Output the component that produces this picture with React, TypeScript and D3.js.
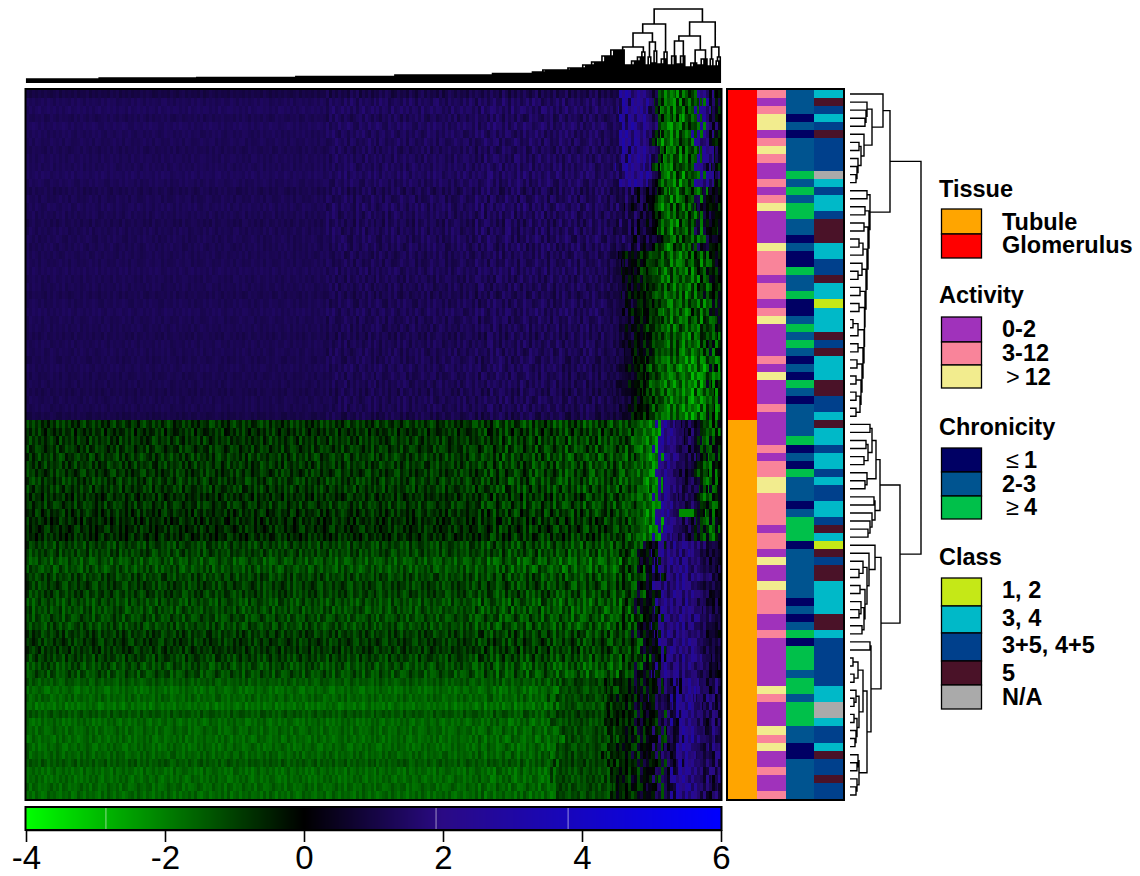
import React, { useRef, useEffect } from "react";
import * as d3 from "d3";

type Merge = 0 | [number, Merge, Merge];
type Run = [number, number];

// ---- colour key ----
const keyTicks = [-4, -2, 0, 2, 4, 6];
const keyDomain = [-4, 0, 2, 6];
const keyColors = ["#00ff00", "#000000", "#2a0a85", "#0000ff"];
const keySeams = [-2.85, 1.9, 3.8];

// ---- sample annotations, one letter per row ----
const tissueRows = "g".repeat(41) + "t".repeat(47);
const activityRows = [
  "babccabcbaababc", "aaaac", "bbb", "a", "bb", "a", "b", "c", "aaaa", "b", "a", "c", "aaa", "b", "a",
  "aaa", "b", "a", "bb", "cc", "bbbb", "a", "bb", "a", "c", "aa", "c", "bbb", "aa", "b",
  "aaaaaa", "c", "b", "aaa", "c", "b", "c", "aa", "b", "aa", "b",
].join("");
const chronicityRows = [
  "mmm", "n", "m", "n", "mmmm", "g", "m", "g", "m", "gg", "mm", "n", "m", "nn", "g", "mm", "g", "nn", "m", "g", "m", "g", "m",
  "n", "m", "n", "g", "m", "n", "mmmm", "g", "n", "m", "n", "g", "mmm", "n", "m", "ggg", "n", "mmmmmm", "n", "m", "n", "m", "g",
  "n", "ggg", "m", "gg", "m", "ggg", "mm", "nn", "mmmmm",
].join("");
const classRows = [
  "c", "d", "b", "c", "b", "d", "bbbb", "a", "c", "b", "cc", "b", "ddd", "cc", "bb", "d", "cc", "y", "ccc", "d", "b", "d", "ccc",
  "dd", "bb", "c", "d", "cc", "b", "cc", "b", "c", "bb", "cc", "b", "d", "c", "y", "d", "b", "dd", "cccc", "dd", "c",
  "bbbbbb", "cc", "aa", "c", "bb", "c", "d", "bb", "d", "bb",
].join("");

const tissueColors: Record<string, string> = { t: "#ffa500", g: "#ff0000" };
const activityColors: Record<string, string> = { a: "#a032bb", b: "#f9849a", c: "#f2ec8e" };
const chronicityColors: Record<string, string> = { n: "#000064", m: "#005490", g: "#00c04a" };
const classColors: Record<string, string> = { y: "#c5e817", c: "#00b9c8", b: "#00408c", d: "#4a1228", a: "#aaaaaa" };

// ---- heatmap: values read per column band for each horizontal block of rows ----
const columnCount = 464;
const bandEdges = [0, 100, 200, 300, 353, 389, 398, 409, 418, 422, 434, 449, 459, 464];
const blockRowCounts = [12, 8, 13, 8, 15, 17, 15];
const blockBands = [
  [1.3, 1.3, 1.35, 1.4, 1.4, 1.3, 2.3, 2.2, 0.6, -1.8, -1.2, 2.1, -0.5],
  [1.25, 1.25, 1.3, 1.35, 1.35, 1.2, 0.9, 0.8, 0.1, -1.6, -1.2, 0.5, -0.3],
  [1.25, 1.25, 1.25, 1.3, 1.3, 1.1, 0.2, -0.4, -0.7, -1.4, -1.5, -1.1, -0.3],
  [1.2, 1.2, 1.25, 1.3, 1.2, 0.9, 0.1, -0.9, -1.0, -1.7, -1.9, -1.6, -0.4],
  [-0.8, -0.8, -0.85, -0.95, -1.05, -1.1, -1.1, -1.8, -1.8, 2.1, 1.0, -1.3, -0.3],
  [-1.05, -1.05, -1.1, -1.15, -1.25, -1.25, -1.0, 0.1, 0.1, 1.9, 1.9, 1.0, 0.5],
  [-1.6, -1.6, -1.6, -1.6, -1.15, -0.6, -0.45, 0.2, -0.5, 1.0, 2.2, 1.0, 1.5],
];
const rowLevels = [
  0.8, 1, 1.05, 0.95, 1.05, 1, 1, 0.95, 1, 1, 1.05, 1,
  0.95, 1, 1.05, 1, 0.95, 1, 1, 1,
  1, 1, 1.05, 1, 1, 0.95, 1, 1.05, 1, 1, 0.95, 1, 1,
  1, 1.05, 1, 1, 0.95, 1, 1, 0.9,
  1, 0.85, 1, 1, 1.1, 1.05, 1, 1.1, 1.05, 0.85, 1.05, 0.85, 0.75, 0.8, 0.75,
  0.95, 0.95, 1.2, 1.15, 0.95, 0.9, 0.9, 1.1, 1.1, 1.05, 1.05, 0.85, 0.8, 0.78, 0.92, 1.1, 1.1,
  0.85, 1.02, 0.95, 1.08, 0.82, 1, 0.97, 1, 1, 0.95, 0.84, 1, 1, 0.97, 1,
];
// how far each row's band edges lie from the block's, in columns
const rowEdgeShift = [
  1, -1, 2, 0, -2, 1, 3, -1, 0, 2, -2, 1,
  -2, 1, 3, -1, 0, 2, -3, 1,
  4, 2, 5, 3, 1, 4, 0, 2, -1, 1, -2, 0, -1,
  -2, 0, -3, 1, -1, -4, -2, 0,
  1, -1, 0, 2, -2, 1, 3, 0, -1, 2, -2, 1, 0, -1, 2,
  -1, 2, 0, 1, -3, 2, -1, 3, 0, -2, 1, 2, -1, 0, -3, 1, 2,
  0, -2, 3, 1, -1, 2, 0, -3, 1, 2, -2, 0, 3, -1, 1,
];
const leftGrainByBlock = [0.3, 0.35, 0.3, 0.3, 0.6, 0.55, 0.32];
const rightGrainByBlock = [0.9, 1.0, 1.0, 1.0, 0.85, 0.85, 0.85];
const grainStrings = [
  "52738461950627384159073628154906273518490627153849602735184069273518049627351847",
  "4618295073618402957316480295174630829517403682951740638295071648392057146382905716483",
  "7305182649370516284937051628493075162849307516824930571628403957162849357016284930571628",
  "2950736148295703614829057361482950736418295073641829570364182950736418925073641829507361482",
  "6142953708614295370861249537086142593708614259370861429537086124953780612495378061249",
  "8371605924837160592483716059248371650924837165092483761509248376150924873615092487361509",
  "3596170428359617042835961074283596107428395610742839561704283956170428395617048239561",
];
const rowGrain = "0351624150362410536214053162405316240513625041362504136250413625041360524163052416305241";
const rowPhase = "3816052947261839504718263905147268391052847361920584716293058471629305847162930584716293";
// one patch that stands out from its block: row, first column, last column, value
const heatPatches: [number, number, number, number][] = [[52, 436, 445, -2.2]];

// ---- column dendrogram: runs of [leaves, merge height] ----
const topChainRuns: Run[] = [
  [50, 4], [66, 5], [67, 5.5], [67, 6.5], [66, 8], [27, 9.5], [7, 11], [17, 13],
  [10, 15], [6, 18], [7, 21], [6, 27], [8, 33],
];
const clumpA: Run[] = [[5, 18], [4, 22], [3, 26], [1, 31]];
const clumpB: Run[] = [[2, 18], [1, 26]];
const clumpC: Run[] = [[2, 20], [1, 32]];
const clumpD: Run[] = [[3, 19], [2, 24], [1, 31]];
const clumpE: Run[] = [[3, 18], [2, 27]];
const clumpF: Run[] = [[3, 19], [2, 27]];
const clumpG: Run[] = [[4, 16], [3, 20]];
const clumpH: Run[] = [[3, 18], [3, 24]];
const clumpI: Run[] = [[2, 17], [1, 24]];
const clumpJ: Run[] = [[2, 17], [1, 22], [1, 26]];

function chain(runs: Run[]): Merge {
  let node: Merge = 0;
  runs.forEach(([n, h]) => {
    for (let i = 0; i < n; i++) node = [h, node, 0];
  });
  return node;
}

const topTree: Merge = [74,
  [59,
    [50, [36, chain(topChainRuns), chain(clumpA)], [41, chain(clumpB), chain(clumpC)]],
    chain(clumpD)],
  [61,
    [47, [42, chain(clumpE), chain(clumpF)], [33, chain(clumpG), chain(clumpH)]],
    [36, chain(clumpI), chain(clumpJ)]],
];

// ---- row dendrogram, merge heights ----
const glomTop: Merge = [33, 0,
  [22,
    [17, 0, [16, 0, [15, 0, 0]]],
    [14, 0, [11, [9, 0, 0], [8, 0, [7, 0, [6, 0, 0]]]]]]];
const glomBottom: Merge = [20, [17, 0, 0],
  [19, [15, 0, 0],
    [18, [14, 0, 0],
      [17, [13, [9, 0, 0], 0],
        [16, [12, 0, [8, 0, 0]],
          [15, [10, 0, 0],
            [14.5, [9, 0, 0],
              [14, [8, [3, 0, 0], 0],
                [13, [8, 0, 0],
                  [12, [7, 0, 0],
                    [11, [6, 0, 0],
                      [10, [6, 0, 0], [6, 0, 0]]]]]]]]]]]]];
const tubuleTop: Merge = [30,
  [26, [22, [20, 0, 0], [18, [16, 0, 0], [14, 0, 0]]], [17, 0, [15, 0, 0]]],
  [25, [24, 0, 0], [22, 0, [20, 0, [18, 0, 0]]]]];
const tubuleMiddle: Merge = [25, 0,
  [19, 0,
    [17, [13, 0, [9, 0, 0]], [15, [10, 0, 0], [14, [11, 0, [9, 0, 0]], [12, 0, 0]]]]]];
const tubuleBottom: Merge = [21, [20, 0, 0],
  [17,
    [13, [8, [3, 0, 0], [4, 0, 0]], [9, [6, 0, [4, 0, 0]], [7, [4, 0, 0], [6, 0, [5, 0, 0]]]]],
    [9, [8, 0, [7, 0, 0]], [7, 0, [6, 0, 0]]]]];
const rowTree: Merge = [71, [40, glomTop, glomBottom], [50, tubuleTop, [31, tubuleMiddle, tubuleBottom]]];

// ---- legends ----
const legends = [
  { title: "Tissue", titleY: 197, items: [
    { label: "Tubule", color: "#ffa500", y0: 209, y1: 234, base: 230 },
    { label: "Glomerulus", color: "#ff0000", y0: 234, y1: 258, base: 253 },
  ] },
  { title: "Activity", titleY: 303, items: [
    { label: "0-2", color: "#a032bb", y0: 317, y1: 342, base: 337 },
    { label: "3-12", color: "#f9849a", y0: 342, y1: 365, base: 361 },
    { sym: ">", label: "12", color: "#f2ec8e", y0: 365, y1: 388, base: 385 },
  ] },
  { title: "Chronicity", titleY: 435, items: [
    { sym: "≤", label: "1", color: "#000064", y0: 448, y1: 472, base: 468 },
    { label: "2-3", color: "#005490", y0: 472, y1: 496, base: 492 },
    { sym: "≥", label: "4", color: "#00c04a", y0: 496, y1: 519, base: 515 },
  ] },
  { title: "Class", titleY: 565, items: [
    { label: "1, 2", color: "#c5e817", y0: 578, y1: 606, base: 598 },
    { label: "3, 4", color: "#00b9c8", y0: 606, y1: 633, base: 626 },
    { label: "3+5, 4+5", color: "#00408c", y0: 633, y1: 661, base: 653 },
    { label: "5", color: "#4a1228", y0: 661, y1: 685, base: 681 },
    { label: "N/A", color: "#aaaaaa", y0: 685, y1: 709, base: 705 },
  ] },
];

const FONT = "'Liberation Sans', Arial, sans-serif";

function toNode(m: Merge): any {
  return m === 0 ? { h: 0 } : { h: m[0], children: [toNode(m[1]), toNode(m[2])] };
}

function layoutTree(m: Merge, span: number) {
  const root = d3.hierarchy(toNode(m));
  d3.cluster().size([span, 1]).separation(() => 1)(root as any);
  return root as any;
}

export default function App() {
  const svgRef = useRef<SVGSVGElement>(null);

  useEffect(() => {
    const svg = d3.select(svgRef.current);
    svg.selectAll("*").remove();

    const heatX0 = 26, heatX1 = 721, rowsY0 = 90, rowsY1 = 799;
    const color = d3.scaleLinear<string>().domain(keyDomain).range(keyColors).clamp(true);
    const rowIdx = d3.range(activityRows.length);
    const colIdx = d3.range(columnCount);
    const x = d3.scaleBand<number>().domain(colIdx).range([heatX0, heatX1]);
    const y = d3.scaleBand<number>().domain(rowIdx).range([rowsY0, rowsY1]);

    // which block each row falls in
    const rowBlock: number[] = [];
    blockRowCounts.forEach((n, b) => { for (let i = 0; i < n; i++) rowBlock.push(b); });
    const bandOf = d3.scaleThreshold<number, number>().domain(bandEdges.slice(1, -1)).range(d3.range(bandEdges.length - 1));

    const cellValue = (r: number, c: number) => {
      const patch = heatPatches.find(p => p[0] === r && c >= p[1] && c <= p[2]);
      if (patch) return patch[3];
      const b = rowBlock[r];
      const g = grainStrings[+rowGrain[r]];
      // grain runs about two columns wide, as in the picture
      const digit = +g[((c >> 1) + +rowPhase[r] * 3) % g.length];
      const soft = c >= 300 ? (digit - 4.5) * 0.9 + rowEdgeShift[r] : 0;
      const pos = c + soft;
      const left = pos < 398;
      const base = blockBands[b][bandOf(pos)] * (left ? rowLevels[r] : 1);
      const amp = left ? leftGrainByBlock[b] * (c < 200 && b < 4 ? 0.45 : c < 300 ? 1 : 1.35) : rightGrainByBlock[b];
      return base + ((digit - 4.5) / 4.5) * amp;
    };

    const heat = svg.append("g").attr("shape-rendering", "crispEdges");
    rowIdx.forEach(r => {
      heat.append("g")
        .selectAll("rect")
        .data(colIdx)
        .join("rect")
        .attr("x", c => x(c)!)
        .attr("y", y(r)!)
        .attr("width", x.bandwidth() + 0.5)
        .attr("height", y.bandwidth() + 0.5)
        .attr("fill", c => color(cellValue(r, c)));
    });
    svg.append("rect")
      .attr("x", heatX0 - 0.5).attr("y", 89).attr("width", heatX1 - heatX0 + 1).attr("height", 711)
      .attr("fill", "none").attr("stroke", "#000").attr("stroke-width", 2);

    // annotation columns
    const annotations = [
      { rows: tissueRows, colors: tissueColors },
      { rows: activityRows, colors: activityColors },
      { rows: chronicityRows, colors: chronicityColors },
      { rows: classRows, colors: classColors },
    ];
    const ax = d3.scaleBand<number>().domain(d3.range(annotations.length)).range([728, 843]);
    annotations.forEach((a, i) => {
      svg.append("g").attr("shape-rendering", "crispEdges")
        .selectAll("rect")
        .data(rowIdx)
        .join("rect")
        .attr("x", ax(i)!)
        .attr("y", r => y(r)!)
        .attr("width", ax.bandwidth())
        .attr("height", y.bandwidth() + 0.5)
        .attr("fill", r => a.colors[a.rows[r]]);
    });
    svg.append("rect")
      .attr("x", 727).attr("y", 89).attr("width", 117).attr("height", 711)
      .attr("fill", "none").attr("stroke", "#000").attr("stroke-width", 2);

    // column dendrogram
    const topRoot = layoutTree(topTree, heatX1 - heatX0);
    const topY = d3.scaleLinear().domain([0, 74]).range([83, 9]);
    svg.append("path")
      .attr("fill", "none").attr("stroke", "#000").attr("stroke-width", 1.6)
      .attr("d", topRoot.links().map((l: any) =>
        `M${heatX0 + l.target.x},${topY(l.target.data.h)}V${topY(l.source.data.h)}H${heatX0 + l.source.x}`).join(""));

    // row dendrogram
    const sideRoot = layoutTree(rowTree, rowsY1 - rowsY0);
    const sideX = d3.scaleLinear().domain([0, 71]).range([850, 921]);
    svg.append("path")
      .attr("fill", "none").attr("stroke", "#000").attr("stroke-width", 1.4)
      .attr("d", sideRoot.links().map((l: any) =>
        `M${sideX(l.target.data.h)},${rowsY0 + l.target.x}H${sideX(l.source.data.h)}V${rowsY0 + l.source.x}`).join(""));

    // colour key
    const keyX = d3.scaleLinear().domain([-4, 6]).range([heatX0, heatX1]);
    const keyPixels = d3.range(heatX0, heatX1);
    svg.append("g").attr("shape-rendering", "crispEdges")
      .selectAll("rect")
      .data(keyPixels)
      .join("rect")
      .attr("x", d => d).attr("y", 808).attr("width", 1.5).attr("height", 21)
      .attr("fill", d => color(keyX.invert(d + 0.5)));
    svg.append("g")
      .selectAll("line")
      .data(keySeams)
      .join("line")
      .attr("x1", d => keyX(d)).attr("x2", d => keyX(d)).attr("y1", 808).attr("y2", 829)
      .attr("stroke", "#fff").attr("stroke-opacity", 0.55).attr("stroke-width", 1);
    svg.append("rect")
      .attr("x", heatX0 - 0.5).attr("y", 807).attr("width", heatX1 - heatX0 + 1).attr("height", 23)
      .attr("fill", "none").attr("stroke", "#000").attr("stroke-width", 2);
    const axis = svg.append("g")
      .attr("transform", "translate(0,830)")
      .call(d3.axisBottom(keyX).tickValues(keyTicks).tickSize(12).tickSizeOuter(0).tickFormat(d => String(d)));
    axis.select(".domain").attr("stroke-width", 1.6);
    axis.selectAll("line").attr("stroke-width", 1.6);
    axis.selectAll("text")
      .attr("font-family", FONT).attr("font-size", 33).attr("fill", "#000").attr("dy", 0).attr("y", 39);

    // legends
    const leg = svg.append("g").attr("font-family", FONT).attr("font-size", 23.5).attr("font-weight", "bold");
    legends.forEach(block => {
      leg.append("text").attr("x", 939).attr("y", block.titleY).text(block.title);
      block.items.forEach((item: any) => {
        leg.append("rect")
          .attr("x", 941.5).attr("y", item.y0).attr("width", 40).attr("height", item.y1 - item.y0)
          .attr("fill", item.color).attr("stroke", "#000").attr("stroke-width", 1.3);
        const t = leg.append("text").attr("y", item.base);
        if (item.sym) {
          t.append("tspan").attr("x", 1006).attr("font-weight", "normal").text(item.sym);
          t.append("tspan").attr("dx", 5).text(item.label);
        } else {
          t.attr("x", 1002).text(item.label);
        }
      });
    });
  }, []);

  return <svg ref={svgRef} width={1140} height={876} style={{ position: "absolute", left: 0, top: 0, background: "#fff" }} />;
}
